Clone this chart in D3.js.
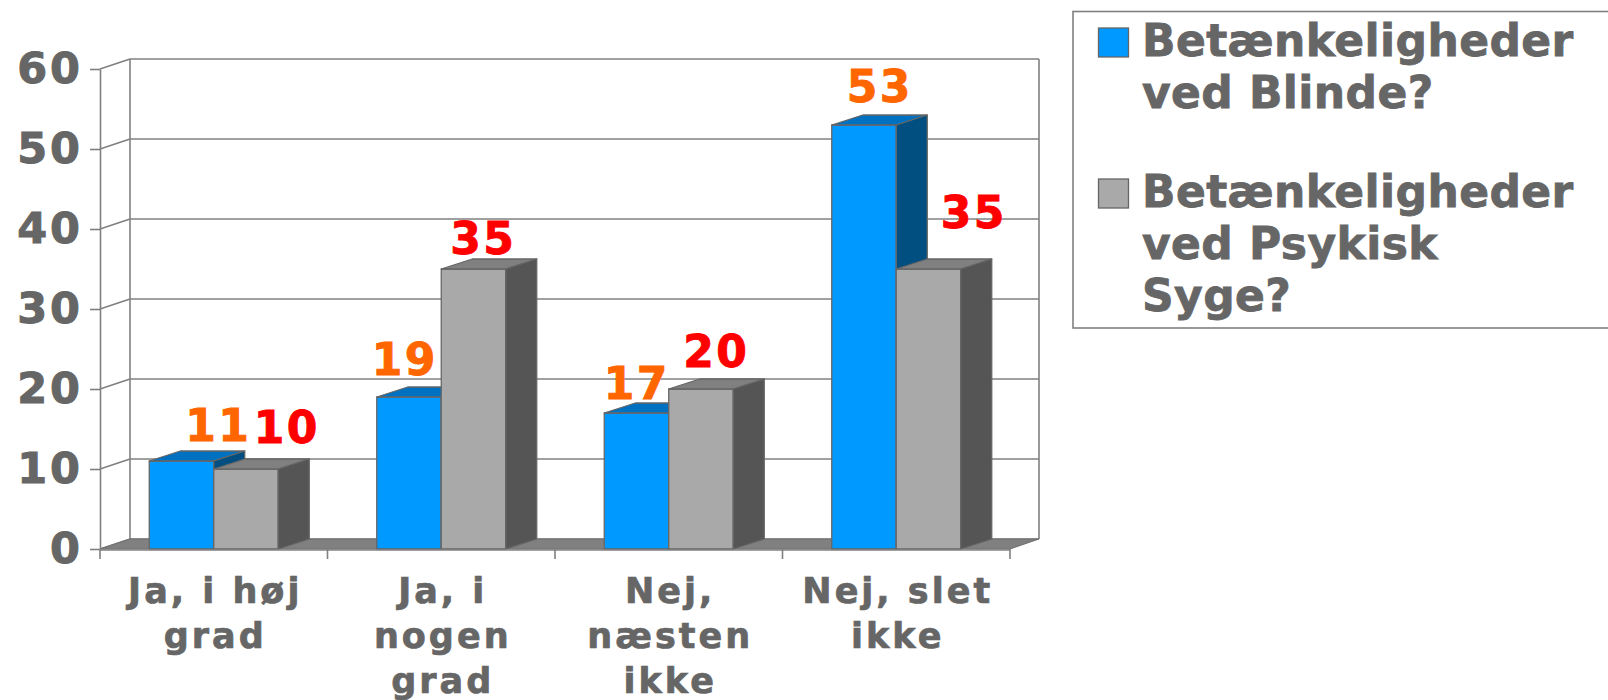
<!DOCTYPE html>
<html>
<head>
<meta charset="utf-8">
<script src="https://cdn.jsdelivr.net/npm/d3@7"></script>
<style>
  html, body { margin: 0; padding: 0; background: #fff; }
  svg { display: block; }
  text { font-family: "DejaVu Sans", Verdana, sans-serif; font-weight: bold; }
</style>
</head>
<body>
<svg id="chart" width="1608" height="700"></svg>
<script>
// ---------- DATA ----------
const categories = [
  ["Ja, i høj", "grad"],
  ["Ja, i", "nogen", "grad"],
  ["Nej,", "næsten", "ikke"],
  ["Nej, slet", "ikke"]
];
const seriesNames = [
  ["Betænkeligheder", "ved Blinde?"],
  ["Betænkeligheder", "ved Psykisk", "Syge?"]
];
const blindeValues = [11, 19, 17, 53];
const psykiskValues = [10, 35, 20, 35];
const yTicks = [0, 10, 20, 30, 40, 50, 60];

// ---------- LAYOUT / STYLE ----------
const seriesValues = [blindeValues, psykiskValues];
const faceColors = [
  { front: "#0099FF", top: "#0070C0", side: "#004F80", label: "#FF6600" },
  { front: "#A9A9A9", top: "#808080", side: "#555555", label: "#FF0000" }
];
const DX = 31, DY = 10;          // 3D depth offset
const WALL_DX = 30, WALL_DY = 10;
const plotLeft = 100, plotRight = 1010, plotBottom = 549, plotTop = 69;
// manual nudges of data labels (as placed in the original)
const labelNudgeX = [[20, -21, -16.5, -1], [24, -7, -1.5, 28.5]];
const labelNudgeY = [[0, -2, 6, -3], [-6, 5, -2, -21]];

const svg = d3.select("#chart");
const x = d3.scaleBand().domain(d3.range(categories.length)).range([plotLeft, plotRight]).paddingInner(0).paddingOuter(0);
const y = d3.scaleLinear().domain([0, 60]).range([plotBottom, plotTop]);
const bw = x.bandwidth();
const groupW = bw * 0.567;
const xs = d3.scaleBand().domain(d3.range(seriesValues.length)).range([0, groupW]).padding(0);

const gridColor = "#808080";
const axisTextColor = "#666666";

// back wall gridlines + connectors
const wall = svg.append("g");
yTicks.forEach(t => {
  const yy = y(t);
  wall.append("line").attr("x1", plotLeft + WALL_DX).attr("x2", plotRight + 29)
    .attr("y1", yy - WALL_DY).attr("y2", yy - WALL_DY)
    .attr("stroke", gridColor).attr("stroke-width", 1.6);
  wall.append("line").attr("x1", plotLeft).attr("x2", plotLeft + WALL_DX)
    .attr("y1", yy).attr("y2", yy - WALL_DY)
    .attr("stroke", gridColor).attr("stroke-width", 1.6);
});
wall.append("line").attr("x1", plotLeft + WALL_DX).attr("x2", plotLeft + WALL_DX)
  .attr("y1", y(60) - WALL_DY).attr("y2", y(0) - WALL_DY).attr("stroke", gridColor).attr("stroke-width", 1.6);
wall.append("line").attr("x1", plotRight + 29).attr("x2", plotRight + 29)
  .attr("y1", y(60) - WALL_DY).attr("y2", y(0) - WALL_DY).attr("stroke", gridColor).attr("stroke-width", 1.6);

// floor
svg.append("polygon")
  .attr("points", [[plotLeft, y(0)], [plotRight, y(0)], [plotRight + 29, y(0) - WALL_DY], [plotLeft + WALL_DX, y(0) - WALL_DY]].map(p => p.join(",")).join(" "))
  .attr("fill", "#808080").attr("stroke", "#707070").attr("stroke-width", 1);

// bars
const bars = svg.append("g");
categories.forEach((c, ci) => {
  seriesValues.forEach((vals, si) => {
    const v = vals[ci];
    const x0 = x(ci) + (bw - groupW) / 2 + xs(si);
    const x1 = x0 + xs.bandwidth();
    const yt = y(v), yb = y(0);
    const col = faceColors[si];
    const g = bars.append("g").attr("stroke", "#666666").attr("stroke-width", 1.3).attr("stroke-linejoin", "round");
    g.append("rect").attr("x", x0).attr("y", yt).attr("width", x1 - x0).attr("height", yb - yt).attr("fill", col.front);
    g.append("polygon").attr("points", [[x0, yt], [x1, yt], [x1 + DX, yt - DY], [x0 + DX, yt - DY]].map(p => p.join(",")).join(" ")).attr("fill", col.top);
    g.append("polygon").attr("points", [[x1, yt], [x1 + DX, yt - DY], [x1 + DX, yb - DY], [x1, yb]].map(p => p.join(",")).join(" ")).attr("fill", col.side);
  });
});

// data labels
const LS_LABEL = 2.5;
const labels = svg.append("g");
categories.forEach((c, ci) => {
  seriesValues.forEach((vals, si) => {
    const v = vals[ci];
    const x0 = x(ci) + (bw - groupW) / 2 + xs(si);
    const cx = x0 + xs.bandwidth() / 2 + DX / 2 + labelNudgeX[si][ci];
    labels.append("text").attr("x", cx + LS_LABEL / 2).attr("y", y(v) - 20 + labelNudgeY[si][ci])
      .attr("text-anchor", "middle").attr("font-size", 44).attr("fill", faceColors[si].label)
      .attr("stroke", faceColors[si].label).attr("stroke-width", 0.9)
      .attr("letter-spacing", LS_LABEL)
      .text(v);
  });
});

// y axis
const LS_Y = 3;
const yAxis = d3.axisLeft(y).tickValues(yTicks).tickSizeInner(10).tickSizeOuter(0).tickPadding(10 - LS_Y);
const gy = svg.append("g").attr("transform", `translate(${plotLeft},0)`).call(yAxis);
gy.select(".domain").attr("stroke", gridColor).attr("stroke-width", 1.6);
gy.selectAll(".tick line").attr("stroke", gridColor).attr("stroke-width", 1.6);
gy.selectAll(".tick text").attr("font-size", 43).attr("fill", axisTextColor)
  .attr("stroke", axisTextColor).attr("stroke-width", 1)
  .attr("letter-spacing", LS_Y)
  .style("font-family", "'DejaVu Sans', Verdana, sans-serif").style("font-weight", "bold");

// x axis line + ticks
const gx = svg.append("g");
gx.append("line").attr("x1", plotLeft).attr("x2", plotRight).attr("y1", y(0) + 1).attr("y2", y(0) + 1)
  .attr("stroke", gridColor).attr("stroke-width", 1.6);
d3.range(categories.length + 1).forEach(i => {
  const xx = i < categories.length ? x(i) : plotRight;
  gx.append("line").attr("x1", xx).attr("x2", xx).attr("y1", y(0)).attr("y2", y(0) + 10)
    .attr("stroke", gridColor).attr("stroke-width", 1.6);
});
const LS_X = 3;
categories.forEach((lines, ci) => {
  const t = gx.append("text").attr("text-anchor", "middle").attr("font-size", 35).attr("fill", axisTextColor)
    .attr("stroke", axisTextColor).attr("stroke-width", 0.7).attr("letter-spacing", LS_X);
  lines.forEach((ln, li) => {
    t.append("tspan").attr("x", x(ci) + bw / 2 + LS_X / 2).attr("y", 603 + li * 45).text(ln);
  });
});

// legend
const lg = svg.append("g");
lg.append("rect").attr("x", 1073).attr("y", 11.5).attr("width", 600).attr("height", 316.5)
  .attr("fill", "#fff").attr("stroke", "#808080").attr("stroke-width", 1.6);
const entryBaselines = [56, 207];
seriesNames.forEach((lines, si) => {
  const b = entryBaselines[si];
  lg.append("rect").attr("x", 1098.5).attr("y", b - 28).attr("width", 30).attr("height", 29)
    .attr("fill", faceColors[si].front).attr("stroke", "#666666").attr("stroke-width", 1.3);
  const t = lg.append("text").attr("font-size", 44).attr("fill", axisTextColor)
    .attr("stroke", axisTextColor).attr("stroke-width", 0.8).attr("letter-spacing", 0.4);
  lines.forEach((ln, li) => {
    t.append("tspan").attr("x", 1142).attr("y", b + li * 52).text(ln);
  });
});
</script>
</body>
</html>
